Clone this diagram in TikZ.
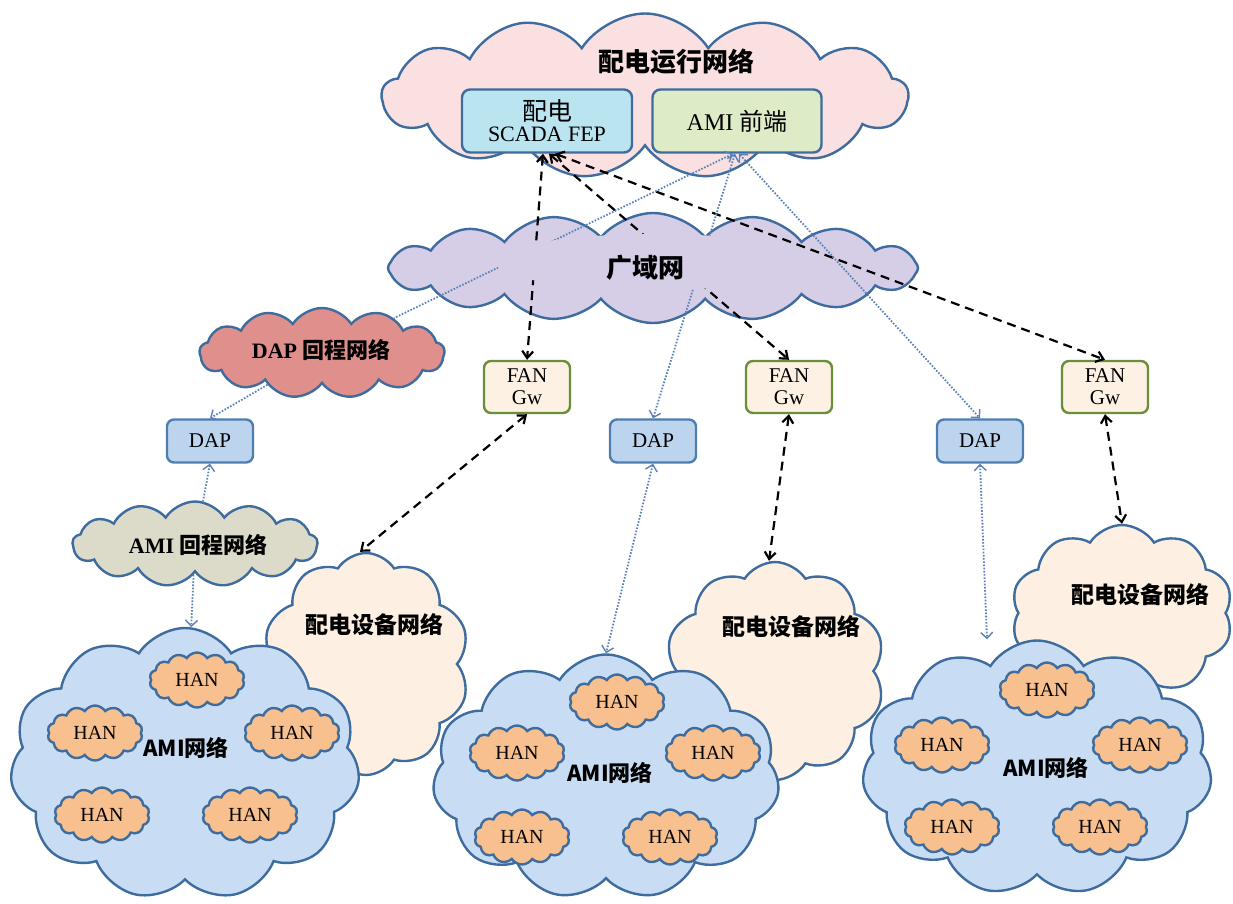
\documentclass[tikz,border=0pt]{standalone}
\usepackage{fontspec}
\setmainfont{Liberation Serif}
\newfontfamily\cjk{Noto Sans CJK SC}
\usetikzlibrary{shapes.symbols,arrows.meta}
\definecolor{cb}{RGB}{62,108,158}
\definecolor{pinkf}{RGB}{250,224,224}
\definecolor{lavf}{RGB}{214,205,230}
\definecolor{rosef}{RGB}{224,144,140}
\definecolor{beigef}{RGB}{220,218,200}
\definecolor{creamf}{RGB}{253,240,226}
\definecolor{amif}{RGB}{200,221,243}
\definecolor{hanf}{RGB}{248,192,142}
\definecolor{scadaf}{RGB}{186,228,240}
\definecolor{fef}{RGB}{221,235,198}
\definecolor{fanf}{RGB}{253,241,227}
\definecolor{fanb}{RGB}{107,142,59}
\definecolor{dapf}{RGB}{189,212,238}
\definecolor{dapb}{RGB}{78,125,176}
\definecolor{dotc}{RGB}{90,130,185}
\begin{document}
\begin{tikzpicture}[x=1pt,y=-1pt,
  cloudbase/.style={draw=cb, line width=2.4pt, cloud, cloud ignores aspect, inner sep=0pt, cloud puff arc=115},
  hanst/.style={cloudbase, fill=hanf, cloud puffs=14, minimum width=95pt, minimum height=55pt, font=\fontsize{20}{22}\selectfont},
  boxst/.style={draw=cb, line width=2.4pt, rounded corners=8pt, align=center, font=\fontsize{22}{24}\selectfont},
  fanst/.style={draw=fanb, fill=fanf, line width=2.4pt, rounded corners=7pt, align=center, minimum width=86pt, minimum height=52pt, inner sep=0pt, font=\fontsize{21}{22}\selectfont},
  dapst/.style={draw=dapb, fill=dapf, line width=2.4pt, rounded corners=7pt, minimum width=86pt, minimum height=43pt, inner sep=0pt, font=\fontsize{21}{23}\selectfont},
  lbl/.style={font=\cjk\bfseries\fontsize{26}{28}\selectfont},
  lbls/.style={font=\cjk\bfseries\fontsize{22}{24}\selectfont},
  lbld/.style={font=\cjk\bfseries\fontsize{23}{25}\selectfont},
  dashl/.style={draw=black, line width=2.2pt, dash pattern=on 9pt off 6pt, arrows={Straight Barb[length=7pt,width=11pt]-Straight Barb[length=7pt,width=11pt]}},
  dotl/.style={draw=dotc, line width=1.8pt, dash pattern=on 1.6pt off 1.6pt},
  tipd/.style={arrows={Straight Barb[length=6pt,width=12pt,line width=1.4pt]-Straight Barb[length=6pt,width=12pt,line width=1.4pt]}},
  tipa/.style={arrows={Straight Barb[length=6pt,width=12pt,line width=1.4pt]-}},
  tipb/.style={arrows={-Straight Barb[length=6pt,width=12pt,line width=1.4pt]}}
]
\useasboundingbox (0,0) rectangle (1233,903);
% clouds
\node[cloudbase, fill=pinkf, cloud puffs=13, minimum width=526pt, minimum height=165pt] (top) at (645,96) {};
\node[cloudbase, fill=lavf, cloud puffs=16, cloud puff arc=100, minimum width=530pt, minimum height=110pt] (wan) at (653,268) {};
\node[cloudbase, fill=rosef, cloud puffs=13, minimum width=245pt, minimum height=90pt] (dapbh) at (322,353) {};
\node[cloudbase, fill=beigef, cloud puffs=13, minimum width=245pt, minimum height=85pt] (amibh) at (195,544) {};
\node[cloudbase, fill=creamf, cloud puffs=10, minimum width=207pt, minimum height=222pt] (dev1) at (366,664) {};
\node[cloudbase, fill=creamf, cloud puffs=10, minimum width=220pt, minimum height=218pt] (dev2) at (775,671) {};
\node[cloudbase, fill=creamf, cloud puffs=10, minimum width=222pt, minimum height=176pt] (dev3) at (1122,613) {};
\node[cloudbase, fill=amif, cloud puffs=11, minimum width=350pt, minimum height=272pt] (ami1) at (185,764) {};
\node[cloudbase, fill=amif, cloud puffs=11, minimum width=347pt, minimum height=245pt] (ami2) at (606,777) {};
\node[cloudbase, fill=amif, cloud puffs=11, minimum width=350pt, minimum height=255pt] (ami3) at (1037,768) {};
% HAN clouds
\node[hanst] (h11) at (197,680) {HAN};
\node[hanst] (h12) at (95,733) {HAN};
\node[hanst] (h13) at (292,733) {HAN};
\node[hanst] (h14) at (102,815) {HAN};
\node[hanst] (h15) at (250,815) {HAN};
\node[hanst] (h21) at (617,702) {HAN};
\node[hanst] (h22) at (517,753) {HAN};
\node[hanst] (h23) at (713,753) {HAN};
\node[hanst] (h24) at (522,837) {HAN};
\node[hanst] (h25) at (670,837) {HAN};
\node[hanst] (h31) at (1047,690) {HAN};
\node[hanst] (h32) at (942,745) {HAN};
\node[hanst] (h33) at (1140,745) {HAN};
\node[hanst] (h34) at (952,827) {HAN};
\node[hanst] (h35) at (1100,827) {HAN};
% boxes
\node[boxst, fill=scadaf, minimum width=170pt, minimum height=63pt, inner sep=0pt] (scada) at (547,121) {{\cjk\fontsize{25}{26}\selectfont 配电}\\[-3pt]SCADA FEP};
\node[boxst, fill=fef, minimum width=169pt, minimum height=63pt, inner sep=0pt, font=\fontsize{24}{26}\selectfont] (amife) at (737,121) {AMI {\cjk 前端}};
\node[fanst] (fan1) at (527,387) {FAN\\Gw};
\node[fanst] (fan2) at (789,387) {FAN\\Gw};
\node[fanst] (fan3) at (1105,387) {FAN\\Gw};
\node[dapst] (dap1) at (210,441) {DAP};
\node[dapst] (dap2) at (653,441) {DAP};
\node[dapst] (dap3) at (980,441) {DAP};
% connectors
\draw[dashl] ([xshift=-4pt]scada.south) -- (fan1.north);
\draw[dashl] ([xshift=2pt]scada.south) -- (fan2.north);
\draw[dashl] ([xshift=8pt]scada.south) -- (fan3.north);
\draw[dashl] (fan1.south) -- ([xshift=-6pt]dev1.north);
\draw[dashl] (fan2.south) -- ([xshift=-6pt]dev2.north);
\draw[dashl] (fan3.south) -- (dev3.north);
\draw[dotl, tipa] ([xshift=-4pt]amife.south) -- (dapbh);
\draw[dotl, tipd] ([xshift=-2pt]amife.south) -- (dap2.north);
\draw[dotl, tipd] ([xshift=2pt]amife.south) -- (dap3.north);
\draw[dotl, tipb] (dapbh) -- (dap1.north);
\draw[dotl, tipa] (dap1.south) -- (amibh);
\draw[dotl, tipb] (amibh) -- (ami1);
\draw[dotl, tipd] (dap2.south) -- (ami2.north);
\draw[dotl, tipd] (dap3.south) -- ([xshift=-50pt]ami3.north);
% mask in the wide area network cloud
\fill[lavf] (655,262) ellipse [x radius=160pt, y radius=28pt];
% labels
\node[lbl] (ltop) at (676,62) {配电运行网络};
\node[lbl] (lwan) at (645,268) {广域网};
\node[lbls] (ldapbh) at (321,350) {{\rmfamily\bfseries DAP} 回程网络};
\node[lbls] (lamibh) at (198,545) {{\rmfamily\bfseries AMI} 回程网络};
\node[lbld] (ldev1) at (374,625) {配电设备网络};
\node[lbld] (ldev2) at (791,627) {配电设备网络};
\node[lbld] (ldev3) at (1140,595) {配电设备网络};
\node[lbls] (lami1) at (186,748) {AMI网络};
\node[lbls] (lami2) at (610,773) {AMI网络};
\node[lbls] (lami3) at (1046,768) {AMI网络};
\end{tikzpicture}
\end{document}
